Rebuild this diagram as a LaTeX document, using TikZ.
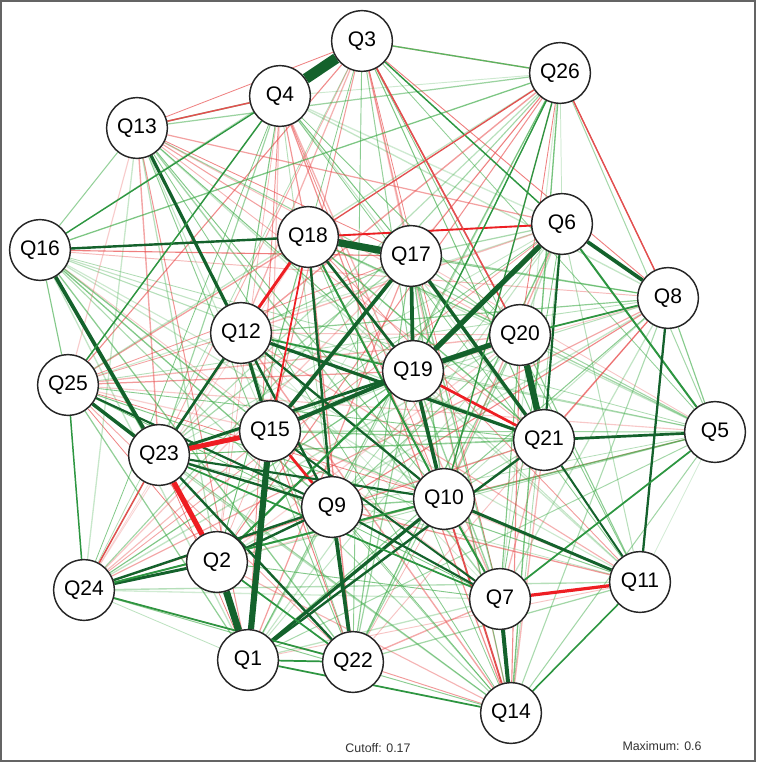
\documentclass[tikz,border=0pt]{standalone}
\usepackage{fontspec}
\setmainfont{Liberation Sans}
\pgfdeclarelayer{bg}
\pgfdeclarelayer{edges}
\pgfsetlayers{bg,edges,main}
\definecolor{fgreen}{RGB}{60,170,70}
\definecolor{fred}{RGB}{232,70,70}
\definecolor{dg}{RGB}{20,98,44}
\definecolor{mg}{RGB}{45,150,65}
\definecolor{lg}{RGB}{90,180,95}
\definecolor{rd}{RGB}{238,30,35}
\definecolor{mr}{RGB}{226,80,80}
\definecolor{framegray}{RGB}{100,100,100}
\begin{document}
\begin{tikzpicture}[x=0.75pt,y=-0.75pt,
  qn/.style={circle,draw=black!85,line width=1.1pt,fill=white,minimum size=45.5pt,inner sep=0pt,font=\fontsize{15.8}{18}\selectfont},
  note/.style={font=\fontsize{9.3}{11}\selectfont,text=black!80}]
\useasboundingbox (0,0) rectangle (756,762);
\begin{pgfonlayer}{bg}
\fill[white] (0,0) rectangle (756,762);
\end{pgfonlayer}
\draw[framegray,line width=1.5pt] (1,1) rectangle (755,761);
% nodes
\node[qn] (Q1) at (248,660) {Q1};
\node[qn] (Q2) at (217,562) {Q2};
\node[qn] (Q3) at (362,41) {Q3};
\node[qn] (Q4) at (280,96) {Q4};
\node[qn] (Q5) at (715,432) {Q5};
\node[qn] (Q6) at (562,224) {Q6};
\node[qn] (Q7) at (500,599) {Q7};
\node[qn] (Q8) at (668,298) {Q8};
\node[qn] (Q9) at (332,507) {Q9};
\node[qn] (Q10) at (444,499) {Q10};
\node[qn] (Q11) at (640,582) {Q11};
\node[qn] (Q12) at (241,333) {Q12};
\node[qn] (Q13) at (137,128) {Q13};
\node[qn] (Q14) at (511,713) {Q14};
\node[qn] (Q15) at (270,431) {Q15};
\node[qn] (Q16) at (40,250) {Q16};
\node[qn] (Q17) at (411,256) {Q17};
\node[qn] (Q18) at (308,237) {Q18};
\node[qn] (Q19) at (413,371) {Q19};
\node[qn] (Q20) at (520,335) {Q20};
\node[qn] (Q21) at (544,440) {Q21};
\node[qn] (Q22) at (353,662) {Q22};
\node[qn] (Q23) at (159,455) {Q23};
\node[qn] (Q24) at (84,590) {Q24};
\node[qn] (Q25) at (68,385) {Q25};
\node[qn] (Q26) at (560,73) {Q26};
\node[note] (cut) at (378,748) {Cutoff: 0.17};
\node[note] (max) at (662,746) {Maximum: 0.6};
\begin{pgfonlayer}{edges}
% faint edges below the cutoff
\pgfmathsetseed{7}
\foreach \i in {1,...,26}{
  \foreach \j in {1,...,26}{
    \ifnum\i<\j
      \pgfmathsetmacro\ra{rnd}
      \pgfmathsetmacro\rb{rnd}
      \pgfmathsetmacro\rc{rnd}
      \pgfmathsetmacro\rd{rnd}
      \pgfmathsetmacro\op{0.22+0.48*\rb}
      \pgfmathsetmacro\lw{0.55+0.5*\rc}
      \ifdim\ra pt<0.58pt \def\ec{fgreen}\else\def\ec{fred}\fi
      \ifdim\rd pt<0.88pt
        \draw[draw=\ec,draw opacity=\op,line width=\lw pt] (Q\i) -- (Q\j);
      \fi
    \fi
  }
}
% edges above the cutoff
\foreach \a/\b/\w/\c in {
  16/18/1.8/dg, 13/12/2.4/dg, 16/23/2.8/dg, 25/23/2.6/dg, 25/9/1.6/dg,
  12/23/2.0/dg, 12/15/2.4/dg, 12/9/1.8/dg, 12/10/1.7/dg, 12/19/1.3/mg,
  12/21/2.4/dg, 18/9/1.8/dg, 18/19/2.0/dg, 18/10/1.5/mg, 18/12/2.2/rd,
  18/6/1.4/rd, 18/15/1.3/rd, 15/17/2.8/dg, 17/19/2.8/dg, 17/21/2.6/dg,
  15/19/3.0/dg, 23/19/2.2/dg, 19/10/2.8/dg, 19/21/2.0/rd, 19/2/1.6/mg,
  6/8/2.8/dg, 6/21/1.6/dg, 6/5/1.5/mg, 8/11/1.7/dg, 20/8/1.3/mg,
  21/5/2.0/dg, 21/11/1.5/dg, 5/7/1.3/mg, 10/11/2.2/dg, 10/7/1.5/mg,
  10/14/1.4/mr, 10/1/2.4/dg, 21/1/1.8/dg, 7/11/2.4/rd, 7/14/3.0/dg,
  11/14/1.2/mg, 9/22/2.8/dg, 9/7/1.6/dg, 9/2/1.8/dg, 15/9/2.0/rd,
  15/7/1.5/dg, 23/9/1.8/dg, 23/10/1.6/dg, 23/22/1.8/dg, 23/7/1.3/mg,
  24/2/2.2/dg, 24/9/1.8/dg, 24/10/1.4/mg, 24/22/1.3/mg, 24/25/1.1/mg,
  24/23/1.1/mr, 1/22/1.3/mg, 1/14/1.3/mg, 2/22/1.3/mg, 4/13/1.1/mr,
  4/25/1.1/mg, 16/4/1.0/mg, 26/8/1.0/mr, 3/26/1.0/lg, 3/20/1.2/mr,
  3/6/1.1/mg, 26/19/1.0/mg, 26/10/1.0/mg, 26/18/1.0/mr,
  3/4/8.0/dg, 18/17/5.5/dg, 20/21/4.8/dg, 2/1/5.2/dg, 15/1/4.6/dg,
  6/19/3.9/dg, 19/20/3.9/dg, 23/2/3.9/rd, 23/15/3.7/rd}{
  \draw[draw=\c,line width=\w pt] (Q\a) -- (Q\b);
}
\end{pgfonlayer}
\end{tikzpicture}
\end{document}
